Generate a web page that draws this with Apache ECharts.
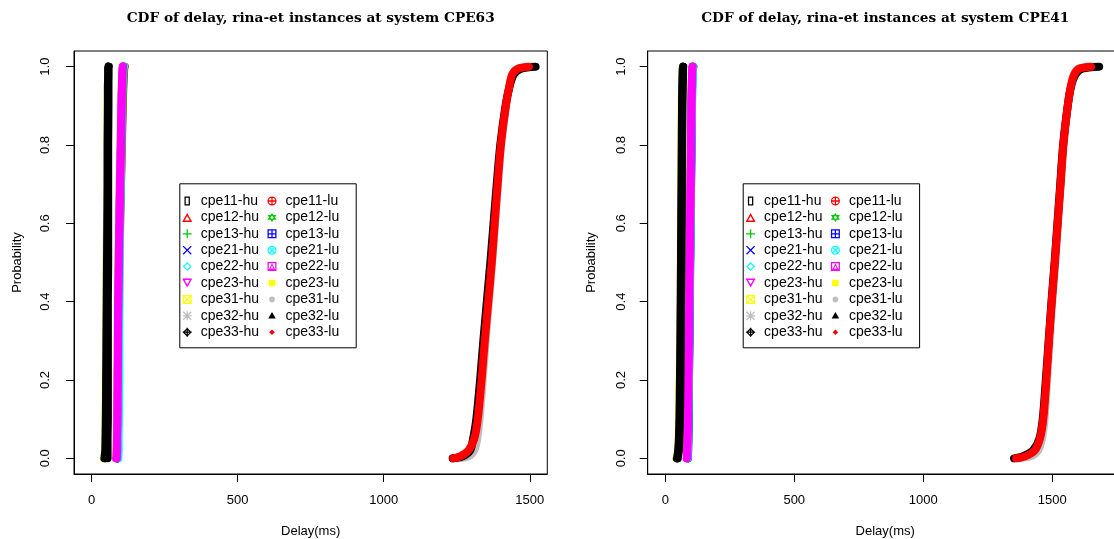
<!DOCTYPE html>
<html>
<head>
<meta charset="utf-8">
<script src="https://cdn.jsdelivr.net/npm/echarts@6/dist/echarts.min.js"></script>
<style>
html, body { margin: 0; padding: 0; background: #fff; }
#chart { width: 1114px; height: 539px; }
</style>
</head>
<body>
<div id="chart"></div>
<script>
const probLevels = [0, 0.005, 0.02, 0.05, 0.1, 0.2, 0.3, 0.4, 0.5, 0.6, 0.7, 0.8, 0.9, 0.95, 0.98, 0.995, 1]

const seriesNames = [
  'cpe11-hu', 'cpe12-hu', 'cpe13-hu', 'cpe21-hu', 'cpe22-hu', 'cpe23-hu', 'cpe31-hu', 'cpe32-hu', 'cpe33-hu',
  'cpe11-lu', 'cpe12-lu', 'cpe13-lu', 'cpe21-lu', 'cpe22-lu', 'cpe23-lu', 'cpe31-lu', 'cpe32-lu', 'cpe33-lu'
]
const xTicks = [0, 500, 1000, 1500]
const yTicks = [0, 0.2, 0.4, 0.6, 0.8, 1]

// CPE63 delays (ms)
const d63_cpe11_hu = [44, 45, 47, 48, 49, 50, 51, 52, 53, 54, 55, 55, 56, 56, 57, 57, 58]
const d63_cpe12_hu = [87, 88, 88, 89, 90, 91, 92, 93, 94, 96, 98, 101, 103, 105, 107, 108, 110]
const d63_cpe13_hu = [87, 88, 88, 89, 90, 91, 92, 93, 95, 97, 99, 102, 104, 106, 108, 109, 111]
const d63_cpe21_hu = [86, 87, 87, 88, 89, 90, 91, 92, 93, 95, 98, 100, 102, 104, 105, 106, 108]
const d63_cpe22_hu = [89, 89, 90, 90, 91, 92, 93, 94, 95, 97, 99, 101, 103, 105, 107, 108, 110]
const d63_cpe23_hu = [87, 87, 88, 88, 89, 90, 91, 92, 94, 96, 98, 101, 103, 105, 106, 107, 108]
const d63_cpe31_hu = [42, 44, 46, 47, 48, 49, 50, 51, 52, 53, 54, 55, 55, 56, 57, 57, 58]
const d63_cpe32_hu = [45, 46, 47, 48, 49, 50, 51, 52, 52, 53, 54, 55, 56, 56, 57, 57, 58]
const d63_cpe33_hu = [55, 55, 55, 55, 56, 56, 56, 56, 57, 57, 57, 57, 58, 58, 58, 58, 59]
const d63_cpe11_lu = [88, 88, 89, 89, 90, 91, 92, 93, 95, 98, 101, 104, 107, 109, 111, 112, 114]
const d63_cpe12_lu = [88, 88, 89, 89, 90, 91, 92, 93, 95, 97, 100, 103, 106, 108, 110, 111, 113]
const d63_cpe13_lu = [87, 88, 88, 89, 90, 91, 92, 93, 94, 96, 98, 101, 103, 105, 106, 107, 109]
const d63_cpe21_lu = [92, 92, 93, 93, 94, 95, 95, 96, 97, 98, 100, 102, 104, 106, 108, 109, 111]
const d63_cpe22_lu = [84, 85, 86, 87, 88, 89, 90, 91, 93, 95, 97, 100, 102, 104, 105, 106, 107]
const d63_cpe23_lu = [83, 84, 85, 86, 87, 88, 89, 90, 92, 94, 96, 99, 101, 103, 104, 105, 106]
const d63_cpe31_lu = [1250, 1290, 1310, 1320, 1328, 1339, 1349, 1360, 1371, 1381, 1391, 1402, 1419, 1430, 1440, 1458, 1490]
const d63_cpe32_lu = [1236, 1270, 1296, 1306, 1317, 1330, 1341, 1353, 1365, 1376, 1387, 1399, 1417, 1431, 1445, 1470, 1520]
const d63_cpe33_lu = [1238, 1262, 1290, 1310, 1322, 1335, 1346, 1358, 1370, 1380, 1390, 1401, 1418, 1430, 1440, 1460, 1497]

// CPE41 delays (ms)
const d41_cpe11_hu = [45, 47, 50, 53, 55, 57, 59, 60, 61, 62, 63, 64, 65, 66, 67, 68, 69]
const d41_cpe12_hu = [85, 86, 87, 88, 89, 91, 92, 94, 96, 98, 99, 101, 102, 104, 105, 106, 108]
const d41_cpe13_hu = [86, 86, 87, 88, 89, 91, 93, 94, 96, 97, 99, 101, 103, 104, 105, 106, 107]
const d41_cpe21_hu = [85, 86, 87, 88, 89, 90, 92, 93, 95, 97, 99, 100, 102, 103, 104, 105, 106]
const d41_cpe22_hu = [86, 87, 88, 89, 90, 92, 93, 95, 96, 98, 100, 102, 103, 105, 106, 107, 109]
const d41_cpe23_hu = [84, 85, 86, 87, 88, 90, 92, 93, 95, 97, 99, 100, 102, 103, 104, 105, 106]
const d41_cpe31_hu = [44, 46, 49, 52, 54, 56, 58, 59, 60, 61, 62, 63, 64, 65, 66, 67, 68]
const d41_cpe32_hu = [46, 48, 51, 54, 56, 58, 59, 60, 61, 62, 63, 64, 65, 66, 67, 68, 69]
const d41_cpe33_hu = [49, 50, 53, 55, 57, 59, 60, 61, 63, 64, 65, 66, 67, 68, 69, 69, 70]
const d41_cpe11_lu = [86, 86, 87, 88, 89, 91, 92, 94, 96, 98, 99, 101, 103, 104, 106, 107, 109]
const d41_cpe12_lu = [86, 87, 88, 89, 90, 91, 93, 94, 96, 98, 100, 101, 103, 104, 105, 106, 108]
const d41_cpe13_lu = [88, 88, 89, 90, 91, 92, 94, 95, 97, 98, 100, 102, 103, 104, 105, 106, 107]
const d41_cpe21_lu = [87, 87, 88, 89, 90, 92, 93, 95, 97, 99, 100, 102, 104, 106, 107, 108, 110]
const d41_cpe22_lu = [83, 84, 85, 86, 88, 89, 91, 93, 94, 96, 98, 100, 101, 103, 104, 105, 106]
const d41_cpe23_lu = [83, 84, 85, 86, 87, 89, 91, 92, 94, 96, 98, 99, 101, 102, 103, 104, 105]
const d41_cpe31_lu = [1370, 1415, 1445, 1460, 1470, 1480, 1490, 1500, 1512, 1522, 1533, 1544, 1560, 1572, 1584, 1600, 1640]
const d41_cpe32_lu = [1352, 1385, 1425, 1450, 1463, 1475, 1486, 1497, 1509, 1520, 1531, 1542, 1560, 1573, 1590, 1615, 1682]
const d41_cpe33_lu = [1360, 1395, 1432, 1452, 1465, 1477, 1487, 1498, 1510, 1521, 1532, 1543, 1560, 1572, 1585, 1605, 1650]

const delays63 = [
  d63_cpe11_hu, d63_cpe12_hu, d63_cpe13_hu, d63_cpe21_hu, d63_cpe22_hu, d63_cpe23_hu, d63_cpe31_hu, d63_cpe32_hu, d63_cpe33_hu,
  d63_cpe11_lu, d63_cpe12_lu, d63_cpe13_lu, d63_cpe21_lu, d63_cpe22_lu, d63_cpe23_lu, d63_cpe31_lu, d63_cpe32_lu, d63_cpe33_lu
]
const delays41 = [
  d41_cpe11_hu, d41_cpe12_hu, d41_cpe13_hu, d41_cpe21_hu, d41_cpe22_hu, d41_cpe23_hu, d41_cpe31_hu, d41_cpe32_hu, d41_cpe33_hu,
  d41_cpe11_lu, d41_cpe12_lu, d41_cpe13_lu, d41_cpe21_lu, d41_cpe22_lu, d41_cpe23_lu, d41_cpe31_lu, d41_cpe32_lu, d41_cpe33_lu
]

// R default palette, recycled
const palette = ['#000000', '#FF0000', '#00CD00', '#0000FF', '#00FFFF', '#FF00FF', '#FFFF00', '#BEBEBE']
const colors = seriesNames.map((n, i) => palette[i % 8])
// draw order tweaks: magenta and black bands sit on top
const zOrder = [4, 2, 2, 2, 2, 3, 2, 2, 4, 2, 2, 2, 2, 3, 2, 2, 2, 2]

// pch-like legend glyphs
const sqOut = 'M0,0L10,0L10,10L0,10Z M1.4,1.4L1.4,8.6L8.6,8.6L8.6,1.4Z'
const plusP = 'M4.3,0L5.7,0L5.7,4.3L10,4.3L10,5.7L5.7,5.7L5.7,10L4.3,10L4.3,5.7L0,5.7L0,4.3L4.3,4.3Z'
const crossP = 'M0,1L1,0L5,4L9,0L10,1L6,5L10,9L9,10L5,6L1,10L0,9L4,5Z'
const crossS = 'M1.5,2.5L2.5,1.5L5,4L7.5,1.5L8.5,2.5L6,5L8.5,7.5L7.5,8.5L5,6L2.5,8.5L1.5,7.5L4,5Z'
const circOut = 'M5,0A5,5,0,1,1,5,10A5,5,0,1,1,5,0Z M5,1.4A3.6,3.6,0,1,0,5,8.6A3.6,3.6,0,1,0,5,1.4Z'
const diaOut = 'M5,0L10,5L5,10L0,5Z M5,1.9L1.9,5L5,8.1L8.1,5Z'
const icons = [
  'path://M0,0L6,0L6,10L0,10Z M1.4,1.4L1.4,8.6L4.6,8.6L4.6,1.4Z',
  'path://M5,0L10,9L0,9Z M5,3L2.4,7.6L7.6,7.6Z',
  'path://' + plusP,
  'path://' + crossP,
  'path://' + diaOut,
  'path://M0,1L10,1L5,10Z M2.4,2.4L5,7L7.6,2.4Z',
  'path://' + sqOut + ' ' + crossP,
  'path://' + plusP + ' ' + crossP,
  'path://' + diaOut + ' ' + plusP,
  'path://' + circOut + ' ' + plusP,
  'path://M5,0L10,7.6L0,7.6Z M5,2.2L2.4,6.4L7.6,6.4Z M0,2.4L10,2.4L5,10Z M2.4,3.6L5,7.8L7.6,3.6Z',
  'path://' + sqOut + ' ' + plusP,
  'path://' + circOut + ' ' + crossS,
  'path://' + sqOut + ' M5,1.4L8.6,8.6L1.4,8.6Z M5,3.8L3.3,7.4L6.7,7.4Z',
  'path://M-2,-2ZM12,12ZM0,0L10,0L10,10L0,10Z',
  'path://M-3,-3ZM13,13ZM5,0A5,5,0,1,1,5,10A5,5,0,1,1,5,0Z',
  'path://M-1,-1ZM11,11ZM5,0L10,8.7L0,8.7Z',
  'path://M-3,-3ZM13,13ZM5,0L10,5L5,10L0,5Z'
]

const font = 'Liberation Sans'

const panels = [
  { title: 'CDF of delay, rina-et instances at system CPE63', delays: delays63,
    min: -60, max: 1560, left: 74, right: 566.7, legendLeft: 182.2, labelMargin: 22 },
  { title: 'CDF of delay, rina-et instances at system CPE41', delays: delays41,
    min: -68, max: 1773, left: 647.7, right: -8.7, legendLeft: 745.6, labelMargin: 20 }
]

const chart = echarts.init(document.getElementById('chart'))

const axisLine = { show: true, onZero: false, lineStyle: { color: '#000', width: 1 } }
const axisTick = values => ({ show: true, inside: false, length: 8, customValues: values, lineStyle: { color: '#000', width: 1 } })

const option = {
  animation: false,
  backgroundColor: '#fff',
  title: panels.map(p => ({
    text: p.title,
    left: p.left + (1114 - p.right - p.left) / 2,
    top: 11,
    padding: 0,
    textAlign: 'center',
    textStyle: { fontFamily: 'DejaVu Serif', fontWeight: 'bold', fontSize: 13.7, color: '#000' }
  })),
  grid: panels.map(p => ({
    left: p.left, right: p.right, top: 51, bottom: 65,
    containLabel: false, outerBoundsMode: 'none',
    show: true, borderColor: '#000', borderWidth: 1
  })),
  xAxis: panels.map((p, i) => ({
    type: 'value', gridIndex: i, min: p.min, max: p.max, position: 'bottom',
    name: 'Delay(ms)', nameLocation: 'middle', nameGap: 51,
    nameTextStyle: { fontFamily: font, fontSize: 13, color: '#000' },
    axisLine,
    axisTick: axisTick(xTicks),
    axisLabel: { customValues: xTicks, margin: 20, fontFamily: font, fontSize: 13, color: '#000',
      formatter: v => String(v) },
    splitLine: { show: false }
  })),
  yAxis: panels.map((p, i) => ({
    type: 'value', gridIndex: i, min: -0.04, max: 1.04, position: 'left',
    name: 'Probability', nameLocation: 'middle', nameGap: 50,
    nameTextStyle: { fontFamily: font, fontSize: 13, color: '#000' },
    axisLine,
    axisTick: axisTick(yTicks),
    axisLabel: { customValues: yTicks, rotate: 90, margin: p.labelMargin, fontFamily: font, fontSize: 13, color: '#000',
      formatter: v => v.toFixed(1) },
    splitLine: { show: false }
  })),
  legend: [],
  graphic: [],
  series: []
}

panels.forEach((p, pi) => {
  // two legend columns: hu then lu
  [0, 1].forEach(col => {
    option.legend.push({
      orient: 'vertical',
      left: p.legendLeft + col * 85.3,
      top: 194,
      padding: 0,
      itemGap: 2.4,
      itemWidth: 17,
      itemHeight: 9,
      selectedMode: false,
      itemStyle: { borderWidth: 0 },
      textStyle: { fontFamily: font, fontSize: 14, color: '#000' },
      data: seriesNames.slice(col * 9, col * 9 + 9).map((n, k) => ({ name: n, icon: icons[col * 9 + k] }))
    })
  })
  option.graphic.push({
    type: 'rect',
    left: p.legendLeft - 2.9,
    top: 183.3,
    shape: { width: 176.4, height: 164 },
    style: { fill: '#fff', stroke: '#000', lineWidth: 1 },
    z: 3
  })
  seriesNames.forEach((name, i) => {
    option.series.push({
      name,
      type: 'line',
      xAxisIndex: pi,
      yAxisIndex: pi,
      data: p.delays[i].map((d, k) => [d, probLevels[k]]),
      showSymbol: false,
      smooth: 0.3,
      z: zOrder[i],
      silent: true,
      itemStyle: { color: colors[i] },
      lineStyle: { color: colors[i], width: 8, cap: 'round', join: 'round' }
    })
  })
})

chart.setOption(option)
window.addEventListener('resize', () => chart.resize())
</script>
</body>
</html>
